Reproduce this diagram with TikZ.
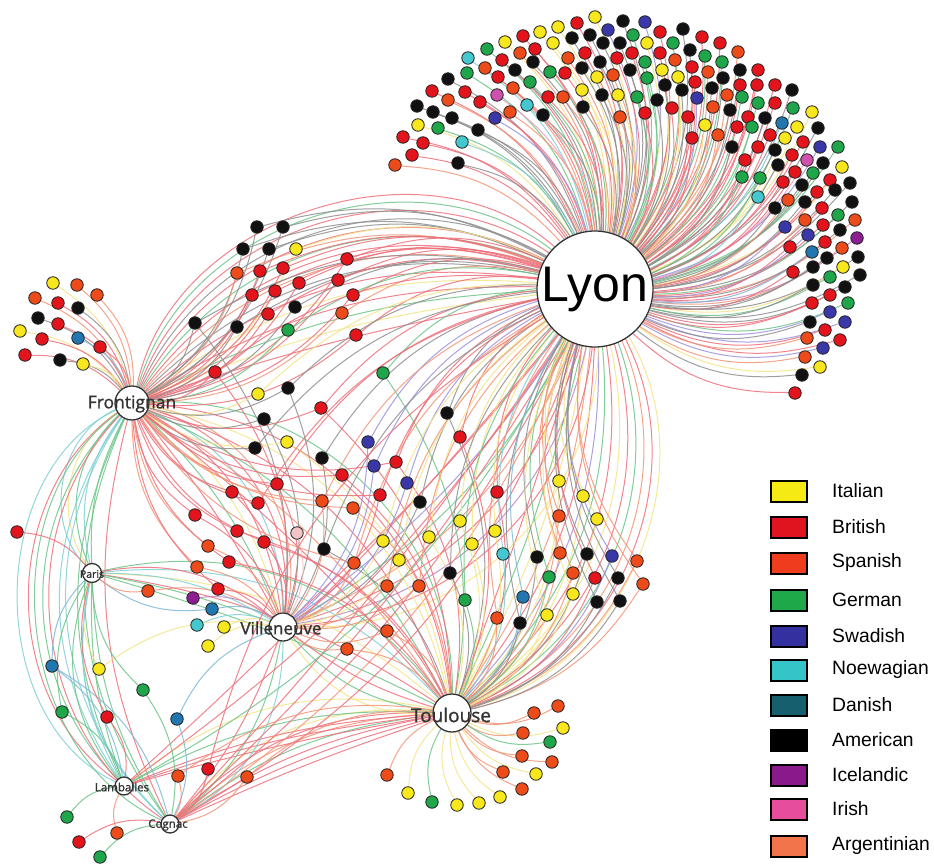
\documentclass[tikz,border=0pt]{standalone}
\usepackage{fontspec}
\newfontfamily\lyonfont{Liberation Sans}
\newfontfamily\hubfont[FakeBold=1.2]{Open Sans}
\pgfdeclarelayer{bg}
\pgfsetlayers{bg,main}
\definecolor{cY}{HTML}{F7E71C}\definecolor{eY}{HTML}{F2E487}
\definecolor{cR}{HTML}{E3141C}\definecolor{eR}{HTML}{EE6F7A}
\definecolor{cO}{HTML}{EE4B1A}\definecolor{eO}{HTML}{F39476}
\definecolor{cG}{HTML}{1FA64A}\definecolor{eG}{HTML}{6CC487}
\definecolor{cB}{HTML}{3A37A8}\definecolor{eB}{HTML}{9A90DC}
\definecolor{cC}{HTML}{44C7CF}\definecolor{eC}{HTML}{7ECFD4}
\definecolor{cD}{HTML}{2277B0}\definecolor{eD}{HTML}{7DB8D6}
\definecolor{cK}{HTML}{111111}\definecolor{eK}{HTML}{8E8E8E}
\definecolor{cP}{HTML}{8E1F92}\definecolor{eP}{HTML}{BC84C4}
\definecolor{cI}{HTML}{D050B0}\definecolor{eI}{HTML}{F09CC4}
\definecolor{cL}{HTML}{F2C4C8}\definecolor{eL}{HTML}{F2C4C8}
\definecolor{gIt}{HTML}{F5EA14}\definecolor{gBr}{HTML}{E0141E}
\definecolor{gSp}{HTML}{F03C1E}\definecolor{gGe}{HTML}{1FA84A}
\definecolor{gSw}{HTML}{3530A0}\definecolor{gNo}{HTML}{35C4C8}
\definecolor{gDa}{HTML}{165F6E}\definecolor{gAm}{HTML}{000000}
\definecolor{gIc}{HTML}{8A1A8C}\definecolor{gIr}{HTML}{E64D9A}
\definecolor{gAr}{HTML}{F2744A}
\tikzset{
  dot/.style={circle,draw=black!85,line width=0.85pt,fill=c#1,minimum size=12.5pt,inner sep=0pt},
  e/.style={draw=e#1,line width=1pt,opacity=0.85},
  hub/.style={circle,draw=black!80,line width=1.3pt,fill=white,inner sep=0pt},
  hublabel/.style={font=\hubfont,text=black!80,inner sep=0pt},
  legbox/.style={draw=black,line width=2pt,fill=#1,minimum width=36pt,minimum height=21pt,inner sep=0pt},
  legtext/.style={font=\lyonfont\fontsize{19.3}{20}\selectfont,anchor=west,inner sep=0pt}
}
\def\lyonlist{595/17/Y, 577/23/R, 558/27/Y, 540/32/Y, 523/36/R, 505/42/Y, 487/49/G, 468/58/C, 448/79/K, 432/91/R, 417/106/K, 418/125/Y, 403/137/R, 412/155/R, 395/165/O, 623/21/K, 645/22/B, 608/30/B, 683/29/K, 660/32/R, 702/37/R, 720/43/R, 738/52/O, 758/70/R, 775/85/R, 792/90/K, 812/112/Y, 818/128/K, 838/147/G, 842/167/Y, 850/183/K, 852/202/K, 855/220/O, 857/238/P, 858/257/K, 860/275/K,
590/35/K, 572/38/K, 553/43/Y, 535/49/R, 520/53/O, 502/60/R, 485/68/O, 467/73/G, 465/92/R, 448/100/O, 433/112/K, 438/128/G, 423/143/R, 452/118/K, 462/142/C, 458/163/K, 478/130/K, 480/102/R, 497/95/I, 495/118/B, 510/112/O, 527/105/C, 543/115/K, 513/88/O, 530/82/G, 548/97/R, 563/97/O, 582/90/Y, 583/107/K, 550/72/G, 565/73/R, 582/68/K, 568/58/O, 533/62/K, 515/70/K, 498/77/R, 603/43/K, 620/43/K, 633/35/G, 647/43/Y, 673/43/G, 690/50/K, 705/56/G, 722/62/G, 740/70/K, 585/53/R, 600/62/K, 617/58/R, 632/53/R, 645/62/G, 660/53/R, 675/60/O, 692/67/R, 708/72/O, 723/78/K, 740/85/R, 757/85/R, 597/77/Y, 613/75/O, 630/70/K, 647/78/G, 662/70/Y, 678/77/Y, 695/82/R, 712/88/K, 727/95/O, 742/97/G, 758/103/G, 775/103/R, 793/108/G, 602/95/K, 618/95/Y, 637/97/G, 657/100/K, 665/85/K, 682/90/K, 697/98/B, 713/107/O, 730/110/K, 748/117/R, 765/118/K, 782/123/D, 797/127/Y, 620/117/O, 645/113/R, 672/108/R, 688/117/R, 705/125/Y, 718/135/O, 737/127/R, 752/127/G, 770/135/R, 785/138/Y, 803/142/R, 820/147/B, 692/138/R, 732/147/K, 745/160/R, 758/147/R, 775/150/K, 792/155/R, 807/160/I, 823/163/K, 742/177/G, 760/178/G, 778/165/K, 795/172/R, 813/173/G, 830/180/R, 783/182/R, 802/185/K, 817/192/R, 835/190/K, 758/197/C, 775/208/K, 788/200/O, 805/202/K, 822/208/R, 838/215/G, 785/227/B, 805/220/O, 823/225/R, 840/230/K, 808/235/B, 825/242/R, 842/248/O, 790/247/R, 812/252/D, 827/258/K, 843/267/Y, 793/272/R, 813/267/K, 830/277/G, 845/287/K, 813/285/K, 830/295/R, 848/303/G, 812/303/R, 830/312/B, 845/322/B, 810/322/K, 825/330/R, 840/340/R, 807/338/O, 823/348/B, 805/357/O, 820/367/Y, 802/375/K, 795/393/R}
\def\frolist{53/283/Y, 77/285/O, 97/295/O, 35/298/O, 58/303/R, 78/308/K, 38/318/K, 58/324/R, 20/331/Y, 42/339/R, 78/338/D, 100/347/R, 25/355/R, 60/360/K, 83/364/Y}
\def\toulist{558/706/O, 534/713/O, 563/728/Y, 523/733/O, 550/742/G, 522/756/O, 552/762/O, 503/772/O, 536/774/Y, 522/789/O, 387/775/O, 408/793/Y, 432/802/G, 457/805/Y, 479/803/Y, 500/797/Y}
\def\multilist{257/227/K/{lyon,fro}, 283/227/K/{lyon,fro}, 243/249/K/{lyon,fro}, 269/249/K/{lyon,fro}, 296/249/Y/{lyon,fro}, 237/273/O/{lyon,fro}, 260/271/R/{lyon,fro}, 283/268/R/{lyon,fro}, 347/259/R/{lyon,fro}, 252/295/R/{lyon,fro}, 275/291/R/{lyon,fro}, 299/283/R/{lyon,fro}, 338/280/R/{lyon,fro}, 353/295/R/{lyon,fro}, 195/323/K/{lyon,fro,vil}, 237/327/K/{lyon,fro}, 268/314/R/{lyon,fro}, 295/307/K/{lyon,fro}, 342/313/O/{lyon,fro}, 288/330/G/{lyon,fro}, 356/335/R/{lyon,fro}, 215/372/R/{lyon,fro,vil}, 383/373/G/{lyon,tou},
258/394/Y/{lyon,fro}, 288/388/K/{lyon,fro,vil}, 321/408/R/{lyon,fro,tou}, 264/419/K/{fro,vil}, 255/448/K/{lyon,fro}, 287/442/Y/{fro,tou}, 322/458/K/{lyon,vil}, 368/442/B/{lyon,vil}, 374/466/B/{lyon,vil}, 396/462/R/{lyon,tou,fro}, 407/483/B/{lyon,vil}, 447/413/K/{lyon,tou}, 460/437/R/{lyon,tou}, 342/475/R/{fro,tou}, 277/484/R/{lyon,vil,fro}, 232/492/R/{fro,vil}, 258/503/R/{fro,lyon}, 322/501/O/{lyon,vil,fro}, 353/508/O/{fro,tou}, 380/495/R/{lyon,vil,fro}, 420/502/K/{lyon,vil}, 195/515/R/{fro,vil}, 237/531/R/{fro,tou}, 297/533/L/{vil}, 264/542/R/{fro,vil,tou}, 324/549/K/{lyon,tou}, 208/546/O/{fro,vil}, 229/562/R/{fro,tou}, 197/567/O/{fro,vil}, 354/563/O/{lyon,vil,fro}, 383/541/Y/{lyon,vil}, 399/560/Y/{lyon,vil}, 429/537/Y/{lyon,tou}, 460/521/Y/{lyon,tou}, 472/544/Y/{lyon,tou}, 497/492/R/{lyon,tou}, 495/531/Y/{lyon,tou}, 503/554/C/{lyon,tou}, 537/557/K/{lyon,tou}, 559/481/Y/{lyon,tou}, 583/496/Y/{lyon,tou}, 559/516/O/{lyon,tou}, 597/519/Y/{lyon,tou}, 560/553/O/{lyon,tou}, 587/554/K/{lyon,tou}, 612/556/B/{lyon,tou}, 637/561/O/{lyon,tou}, 549/577/G/{lyon,tou}, 573/573/O/{lyon,tou}, 595/578/R/{lyon,tou}, 618/578/K/{lyon,tou}, 643/584/O/{lyon,tou}, 573/594/Y/{lyon,tou}, 597/602/K/{lyon,tou}, 620/601/K/{lyon,tou}, 547/615/Y/{lyon,tou}, 520/623/K/{lyon,tou}, 523/597/D/{lyon,tou}, 497/618/O/{lyon,tou}, 465/600/G/{lyon,tou}, 450/573/K/{lyon,tou}, 419/586/O/{lyon,vil}, 387/586/O/{lyon,vil}, 387/631/O/{vil,tou}, 347/649/O/{vil,tou},
218/589/R/{vil,fro}, 193/598/P/{vil}, 212/609/D/{vil,par}, 197/625/C/{vil}, 224/627/Y/{vil}, 208/646/Y/{vil}, 148/591/O/{vil,par}, 17/532/R/{par}, 52/666/D/{par,lam,cog}, 99/669/Y/{vil,par}, 143/690/G/{par,cog}, 62/712/G/{par,lam}, 107/717/R/{lam,par}, 177/719/D/{cog,vil}, 178/776/O/{cog,tou}, 208/769/R/{cog,lyon}, 247/777/O/{cog,tou}, 67/817/G/{lam}, 117/833/O/{lam}, 79/842/R/{cog}, 100/857/G/{cog}}
\begin{document}
\begin{tikzpicture}[x=1pt,y=-1pt]
\useasboundingbox (0,0) rectangle (934,864);
% hubs
\node[hub,minimum size=116pt] (lyon) at (595,289) {};
\node[hub,minimum size=34pt] (fro) at (132,403) {};
\node[hub,minimum size=28pt] (vil) at (283,627) {};
\node[hub,minimum size=38pt] (tou) at (452,713) {};
\node[hub,minimum size=19pt] (par) at (92,573) {};
\node[hub,minimum size=18pt] (lam) at (124,786) {};
\node[hub,minimum size=18pt] (cog) at (170,824) {};
% dots
\foreach \x/\y/\c [count=\i] in \lyonlist {\node[dot=\c] (ly\i) at (\x,\y) {};}
\foreach \x/\y/\c [count=\i] in \frolist {\node[dot=\c] (fr\i) at (\x,\y) {};}
\foreach \x/\y/\c [count=\i] in \toulist {\node[dot=\c] (to\i) at (\x,\y) {};}
\foreach \x/\y/\c/\h [count=\i] in \multilist {\node[dot=\c] (m\i) at (\x,\y) {};}
% connectors
\begin{pgfonlayer}{bg}
\foreach \b/\c in {4/R,8/Y,12/G,16/R,20/Y,24/R,28/K,32/O,36/R,40/G,44/R,48/K,52/R,56/G,60/R}
  \draw[e=\c] (fro) to[bend left=\b] (lyon);
\foreach \b/\c in {2/R,6/G,10/Y,14/O,18/R,22/B,26/G,30/R,34/Y,38/R,42/G,46/O,50/R,54/Y}
  \draw[e=\c] (tou) to[bend right=\b] (lyon);
\foreach \b/\c in {4/R,10/B,16/G,22/O,28/R,34/P,40/R,46/Y}
  \draw[e=\c] (vil) to[bend right=\b] (lyon);
\foreach \b/\c in {5/R,12/G,19/Y,26/R,33/C,40/R,47/O}
  \draw[e=\c] (fro) to[bend left=\b] (vil);
\foreach \b/\c in {5/R,12/O,19/G,26/R,33/Y,40/R,47/G}
  \draw[e=\c] (fro) to[bend left=\b] (tou);
\foreach \b/\c in {15/G,25/C,35/G,45/Y,55/C}
  \draw[e=\c] (fro) to[bend right=\b] (par);
\foreach \b/\c in {25/G,35/C,45/G,55/R,65/C}
  \draw[e=\c] (fro) to[bend right=\b] (lam);
\foreach \b/\c in {20/R,30/G,40/C,50/R,60/G}
  \draw[e=\c] (fro) to[bend right=\b] (cog);
\foreach \b/\c in {5/G,12/R,19/Y,26/C,33/G}
  \draw[e=\c] (par) to[bend left=\b] (tou);
\foreach \b/\c in {5/G,15/C,25/R}
  \draw[e=\c] (par) to[bend left=\b] (vil);
\foreach \b/\c in {3/R,7/R,11/R,15/G,19/O,23/R,27/Y}
  \draw[e=\c] (cog) to[bend left=\b] (tou);
\foreach \b/\c in {3/R,6/R,9/R,15/G,25/Y}
  \draw[e=\c] (lam) to[bend left=\b] (tou);
\foreach \b/\c in {10/R,20/G,30/C}
  \draw[e=\c] (cog) to[bend right=\b] (vil);
\foreach \b/\c in {10/G,20/C,30/G}
  \draw[e=\c] (par) to[bend right=\b] (lam);
\foreach \b/\c in {15/G,30/C}
  \draw[e=\c] (par) to[bend right=\b] (cog);
\foreach \b/\c in {10/R,20/G,30/Y}
  \draw[e=\c] (vil) to[bend right=\b] (tou);
\foreach \b/\c in {4/R,8/R,12/R,16/O,20/R}
  \draw[e=\c] (cog) to[bend right=\b] (lyon);
\foreach \b/\c in {4/R,10/R,16/G}
  \draw[e=\c] (lam) to[bend right=\b] (lyon);
\foreach \x/\y/\c [count=\i] in \lyonlist {\draw[e=\c] (ly\i) to[bend left=22] (lyon);}
\foreach \x/\y/\c [count=\i] in \frolist {\draw[e=\c] (fr\i) to[bend left=22] (fro);}
\foreach \x/\y/\c [count=\i] in \toulist {\draw[e=\c] (to\i) to[bend left=22] (tou);}
\foreach \x/\y/\c/\h [count=\i] in \multilist {
  \foreach \hh in \h {\draw[e=\c] (m\i) to[bend left=22] (\hh);}
}
\end{pgfonlayer}
% hub labels
\node[font=\lyonfont\fontsize{50}{50}\selectfont,inner sep=0pt] (lyonL) at (lyon) {Lyon};
\node[hublabel,font=\hubfont\fontsize{17.5}{18}\selectfont] (froL) at (132,404) {Frontignan};
\node[hublabel,font=\hubfont\fontsize{17}{18}\selectfont] (vilL) at (281,628) {Villeneuve};
\node[hublabel,font=\hubfont\fontsize{19}{20}\selectfont] (touL) at (451,715) {Toulouse};
\node[hublabel,font=\hubfont\fontsize{10.5}{11}\selectfont] (parL) at (92,574) {Paris};
\node[hublabel,font=\hubfont\fontsize{11.5}{12}\selectfont] (lamL) at (122,787) {Lamballes};
\node[hublabel,font=\hubfont\fontsize{11.5}{12}\selectfont] (cogL) at (168,825) {Cognac};
% legend
\foreach \col/\txt/\yy [count=\i] in {gIt/Italian/491, gBr/British/527, gSp/Spanish/563, gGe/German/600, gSw/Swadish/636, gNo/Noewagian/670, gDa/Danish/705, gAm/American/740, gIc/Icelandic/775, gIr/Irish/809, gAr/Argentinian/846}
{
  \node[legbox=\col] (lb\i) at (789,\yy) {};
  \node[legtext] (lt\i) at (832,\yy) {\txt};
}
\end{tikzpicture}
\end{document}
